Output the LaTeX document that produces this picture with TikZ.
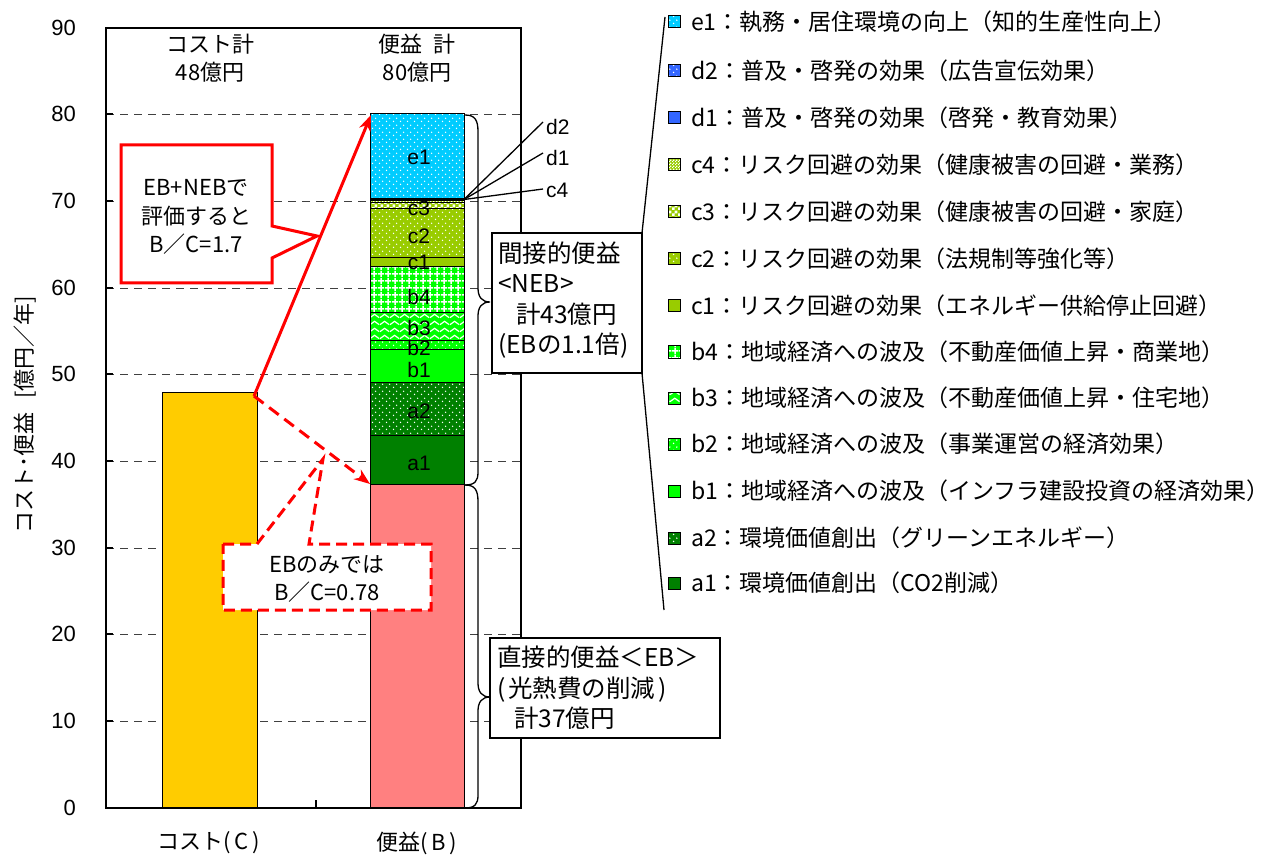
\documentclass[tikz,border=0pt]{standalone}
\usepackage{fontspec}
\setmainfont{Noto Sans CJK JP}
\newfontfamily\arialf{Liberation Sans}
\usetikzlibrary{patterns,arrows.meta}

\definecolor{cCost}{HTML}{FFCC00}
\definecolor{cEB}{HTML}{FF8080}
\definecolor{cA}{HTML}{008000}
\definecolor{cB}{HTML}{00FF00}
\definecolor{cC}{HTML}{99CC00}
\definecolor{cD}{HTML}{3366FF}
\definecolor{cE}{HTML}{00CCFF}
\definecolor{cRed}{HTML}{FF0000}

\pgfdeclarepatternformonly{wdots}{\pgfqpoint{0pt}{0pt}}{\pgfqpoint{7pt}{7pt}}{\pgfqpoint{7pt}{7pt}}{%
  \pgfpathcircle{\pgfqpoint{1.75pt}{1.75pt}}{0.85pt}%
  \pgfpathcircle{\pgfqpoint{5.25pt}{5.25pt}}{0.85pt}%
  \pgfusepath{fill}}
\pgfdeclarepatternformonly{wgrid}{\pgfqpoint{0pt}{0pt}}{\pgfqpoint{7pt}{7pt}}{\pgfqpoint{7pt}{7pt}}{%
  \pgfsetlinewidth{1.6pt}%
  \pgfpathmoveto{\pgfqpoint{0pt}{3.5pt}}\pgfpathlineto{\pgfqpoint{7pt}{3.5pt}}%
  \pgfpathmoveto{\pgfqpoint{3.5pt}{0pt}}\pgfpathlineto{\pgfqpoint{3.5pt}{7pt}}%
  \pgfusepath{stroke}}
\pgfdeclarepatternformonly{wwave}{\pgfqpoint{0pt}{0pt}}{\pgfqpoint{10pt}{7pt}}{\pgfqpoint{10pt}{7pt}}{%
  \pgfsetlinewidth{1.3pt}%
  \pgfpathmoveto{\pgfqpoint{0pt}{1.5pt}}\pgfpathlineto{\pgfqpoint{5pt}{5.2pt}}\pgfpathlineto{\pgfqpoint{10pt}{1.5pt}}%
  \pgfusepath{stroke}}
\pgfdeclarepatternformonly{bigcheck}{\pgfqpoint{0pt}{0pt}}{\pgfqpoint{6pt}{6pt}}{\pgfqpoint{6pt}{6pt}}{%
  \pgfpathrectangle{\pgfqpoint{0pt}{0pt}}{\pgfqpoint{3pt}{3pt}}%
  \pgfpathrectangle{\pgfqpoint{3pt}{3pt}}{\pgfqpoint{3pt}{3pt}}%
  \pgfusepath{fill}}
\pgfdeclarepatternformonly{smallcheck}{\pgfqpoint{0pt}{0pt}}{\pgfqpoint{3pt}{3pt}}{\pgfqpoint{3pt}{3pt}}{%
  \pgfpathrectangle{\pgfqpoint{0pt}{0pt}}{\pgfqpoint{1.5pt}{1.5pt}}%
  \pgfpathrectangle{\pgfqpoint{1.5pt}{1.5pt}}{\pgfqpoint{1.5pt}{1.5pt}}%
  \pgfusepath{fill}}

\tikzset{
  lab/.style={font=\arialf\fontsize{21}{25}\selectfont, inner sep=0pt},
  ticklab/.style={font=\arialf\fontsize{22}{26}\selectfont, inner sep=0pt, anchor=east},
  jtxt/.style={font=\fontsize{22}{28.5}\selectfont, inner sep=0pt},
  legtxt/.style={font=\fontsize{23}{28}\selectfont, inner sep=0pt, anchor=west},
  jbig/.style={font=\fontsize{24.5}{30.5}\selectfont, inner sep=0pt},
  gridln/.style={dash pattern=on 8pt off 6pt, line width=0.9pt, black!75},
  segbase/.style={draw=black, line width=1pt},
  sCost/.style={segbase, fill=cCost},
  sEB/.style={segbase, fill=cEB},
  sA1/.style={segbase, fill=cA},
  sA2/.style={segbase, preaction={fill=cA}, pattern=wdots, pattern color=white},
  sB1/.style={segbase, fill=cB},
  sB2/.style={segbase, preaction={fill=cB}, pattern=wdots, pattern color=white},
  sB3/.style={segbase, preaction={fill=cB}, pattern=wwave, pattern color=white},
  sB4/.style={segbase, preaction={fill=cB}, pattern=wgrid, pattern color=white},
  sC1/.style={segbase, fill=cC},
  sC2/.style={segbase, preaction={fill=cC}, pattern=wdots, pattern color=white},
  sC3/.style={segbase, preaction={fill=cC}, pattern=bigcheck, pattern color=white},
  sC4/.style={segbase, preaction={fill=cC}, pattern=smallcheck, pattern color=white},
  sD1/.style={segbase, fill=cD},
  sD2/.style={segbase, preaction={fill=cD}, pattern=wdots, pattern color=white},
  sE1/.style={segbase, preaction={fill=cE}, pattern=wdots, pattern color=white},
  redarr/.style={draw=cRed, line width=3pt, -{Stealth[length=16pt,width=12pt]}},
  callS/.style={draw=cRed, line width=3pt, fill=white, line join=miter},
  callD/.style={draw=cRed, line width=3pt, fill=white, dash pattern=on 11pt off 6pt},
  brc/.style={draw=black, line width=1.3pt},
  ldr/.style={draw=black, line width=1.3pt},
  infobox/.style={draw=black, line width=1.3pt, fill=white},
}

\begin{document}
\begin{tikzpicture}[x=1pt,y=-1pt]
\useasboundingbox (0,0) rectangle (1279,858);
\fill[white] (0,0) rectangle (1279,858);

% gridlines
\foreach \v in {114,201,288,374,461,548,634,721}
  \draw[gridln] (106,\v) -- (521,\v);

% cost bar
\path[sCost] (162,392) rectangle (257,808);
% benefit stack
\path[sEB] (370,484) rectangle (464,808);
\path[sA1] (370,435) rectangle (464,484);
\path[sA2] (370,382) rectangle (464,435);
\path[sB1] (370,350) rectangle (464,382);
\path[sB2] (370,341) rectangle (464,350);
\path[sB3] (370,313) rectangle (464,341);
\path[sB4] (370,267) rectangle (464,313);
\path[sC1] (370,258) rectangle (464,267);
\path[sC2] (370,209) rectangle (464,258);
\path[sC3] (370,203) rectangle (464,209);
\path[sC4] (370,201) rectangle (464,203);
\path[sD1] (370,200) rectangle (464,201);
\path[sD2] (370,198.5) rectangle (464,200);
\path[sE1] (370,114) rectangle (464,198.5);

% frame and ticks
\draw[line width=1.4pt] (106,28) rectangle (521,808);
\draw[line width=2pt] (106,808) -- (521,808);
\foreach \v in {28,114,201,288,374,461,548,634,721}
  \draw[line width=1.2pt] (106,\v) -- (113,\v);
\draw[line width=1.2pt] (316,808) -- (316,800);

% tick labels
\node[ticklab] (t0) at (76,808) {0};
\node[ticklab] (t10) at (76,721) {10};
\node[ticklab] (t20) at (76,634) {20};
\node[ticklab] (t30) at (76,548) {30};
\node[ticklab] (t40) at (76,461) {40};
\node[ticklab] (t50) at (76,374) {50};
\node[ticklab] (t60) at (76,288) {60};
\node[ticklab] (t70) at (76,201) {70};
\node[ticklab] (t80) at (76,114) {80};
\node[ticklab] (t90) at (76,28) {90};

% axis labels
\node[jtxt, rotate=90] (ylab) at (25,415) {コスト･便益\hspace{14pt}[億円／年]};
\node[jtxt] (xc) at (209,843) {コスト(\,C\,)};
\node[jtxt] (xb) at (417,843) {便益(\,B\,)};
\node[jtxt, align=center] (tc) at (210,58) {コスト計\\48億円};
\node[jtxt, align=center] (tb) at (417,58) {便益\hspace{12pt}計\\80億円};

% red arrows
\coordinate (aS) at (254,396);
\coordinate (aN) at (371,115);
\coordinate (aE) at (370,484);
\draw[redarr] (aS) -- (aN);
\draw[redarr, dash pattern=on 12pt off 7pt] (aS) -- (aE);

% callout 1
\draw[callS] (121,145) -- (272,145) -- (272,226) -- (317,236) -- (272,258) -- (272,283) -- (121,283) -- cycle;
\node[jtxt, align=center] (cb1) at (196,217) {EB+NEBで\\評価すると\\B／C=1.7};

% callout 2
\draw[callD] (223,544) -- (257,544) -- (323,459) -- (309,544) -- (431,544) -- (431,610) -- (223,610) -- cycle;
\node[jtxt, align=center] (cb2) at (327,579) {EBのみでは\\B／C=0.78};

% braces
\draw[brc] (465,115) .. controls (475,115) and (478,120) .. (478,132) -- (478,288)
  .. controls (478,297) and (482,302) .. (490,302)
  .. controls (482,302) and (478,307) .. (478,316) -- (478,472)
  .. controls (478,481) and (475,485) .. (465,485);
\draw[brc] (465,485) .. controls (475,485) and (478,490) .. (478,502) -- (478,683)
  .. controls (478,692) and (482,697) .. (490,697)
  .. controls (482,697) and (478,702) .. (478,711) -- (478,795)
  .. controls (478,804) and (475,808) .. (465,808);

% legend bracket
\draw[brc] (665,17) -- (642,233);
\draw[brc] (642,373) -- (664,610);

% info boxes
\draw[infobox] (492,233) rectangle (642,373);
\node[jbig, align=left, anchor=west] (neb) at (498,300) {間接的便益\\<NEB>\\\hspace*{18pt}計43億円\\(EBの1.1倍)};
\draw[infobox] (490,638) rectangle (720,738);
\node[jbig, align=left, anchor=west] (ebt) at (497,688) {直接的便益＜EB＞\\(\hspace{3pt}光熱費の削減\hspace{3pt})\\\hspace*{17pt}計37億円};

% leaders
\coordinate (ld) at (464,199.5);
\node[lab, anchor=west] (ld2) at (546,127) {d2};
\node[lab, anchor=west] (ld1) at (546,158) {d1};
\node[lab, anchor=west] (lc4) at (546,190) {c4};
\draw[ldr] (ld) -- ([xshift=-3pt,yshift=5pt]ld2.west);
\draw[ldr] (ld) -- ([xshift=-3pt,yshift=5pt]ld1.west);
\draw[ldr] (ld) -- ([xshift=-3pt,yshift=1pt]lc4.west);

% segment labels
\node[lab] (le1) at (419,157) {e1};
\node[lab] (lc3) at (419,208) {c3};
\node[lab] (lc2) at (419,236) {c2};
\node[lab] (lc1) at (419,262) {c1};
\node[lab] (lb4) at (419,297) {b4};
\node[lab] (lb3) at (419,328) {b3};
\node[lab] (lb2) at (419,348) {b2};
\node[lab] (lb1) at (419,370) {b1};
\node[lab] (la2) at (419,411) {a2};
\node[lab] (la1) at (419,463) {a1};

% legend
\path[sE1] (668,16) rectangle (680,28);
\node[legtxt] (g1) at (691,22) {e1：執務・居住環境の向上（知的生産性向上）};
\path[sD2] (668,65) rectangle (680,77);
\node[legtxt] (g2) at (691,71) {d2：普及・啓発の効果（広告宣伝効果）};
\path[sD1] (668,112) rectangle (680,124);
\node[legtxt] (g3) at (691,118) {d1：普及・啓発の効果（啓発・教育効果）};
\path[sC4] (668,159) rectangle (680,171);
\node[legtxt] (g4) at (691,165) {c4：リスク回避の効果（健康被害の回避・業務）};
\path[sC3] (668,206) rectangle (680,218);
\node[legtxt] (g5) at (691,212) {c3：リスク回避の効果（健康被害の回避・家庭）};
\path[sC2] (668,253) rectangle (680,265);
\node[legtxt] (g6) at (691,259) {c2：リスク回避の効果（法規制等強化等）};
\path[sC1] (668,300) rectangle (680,312);
\node[legtxt] (g7) at (691,306) {c1：リスク回避の効果（エネルギー供給停止回避）};
\path[sB4] (668,346) rectangle (680,358);
\node[legtxt] (g8) at (691,352) {b4：地域経済への波及（不動産価値上昇・商業地）};
\path[sB3] (668,392) rectangle (680,404);
\node[legtxt] (g9) at (691,398) {b3：地域経済への波及（不動産価値上昇・住宅地）};
\path[sB2] (668,438) rectangle (680,450);
\node[legtxt] (g10) at (691,444) {b2：地域経済への波及（事業運営の経済効果）};
\path[sB1] (668,485) rectangle (680,497);
\node[legtxt] (g11) at (691,491) {b1：地域経済への波及（インフラ建設投資の経済効果）};
\path[sA2] (668,532) rectangle (680,544);
\node[legtxt] (g12) at (691,538) {a2：環境価値創出（グリーンエネルギー）};
\path[sA1] (668,577) rectangle (680,589);
\node[legtxt] (g13) at (691,583) {a1：環境価値創出（CO2削減）};
\end{tikzpicture}
\end{document}
